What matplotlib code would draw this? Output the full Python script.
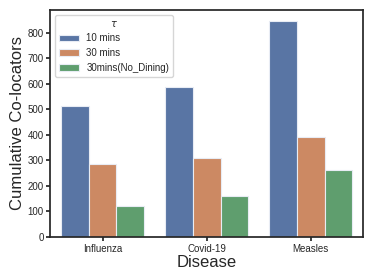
import matplotlib
matplotlib.use('Agg')
import matplotlib.pyplot as plt
import seaborn as sns
import pandas as pd

diseases = ['Influenza', 'Covid-19', 'Measles']
taus = ['10 mins', '30 mins', '30mins(No_Dining)']
colocators_10 = [511, 586, 848]
colocators_30 = [286, 310, 392]
colocators_nd = [120, 160, 262]

rows = []
for tau, vals in zip(taus, [colocators_10, colocators_30, colocators_nd]):
    for d, v in zip(diseases, vals):
        rows.append({'Disease': d, 'tau': tau, 'value': v})
df = pd.DataFrame(rows)

sns.set_theme(style='ticks')
plt.rcParams['font.family'] = ['Liberation Sans', 'DejaVu Sans']

fig, ax = plt.subplots(figsize=(3.74, 2.8), dpi=100)
sns.barplot(data=df, x='Disease', y='value', hue='tau', palette='deep',
            edgecolor='#e8ecf4', linewidth=0.8, ax=ax)

ax.set_xlabel('Disease', fontsize=12, labelpad=1)
ax.set_ylabel('Cumulative Co-locators', fontsize=12, labelpad=2)
ax.tick_params(labelsize=7, length=3, pad=2)
ax.set_yticks(range(0, 900, 100))

leg = ax.legend(title=r'$\tau$', fontsize=7, title_fontsize=7,
                loc='upper left', frameon=True)

fig.subplots_adjust(left=0.135, right=0.97, top=0.965, bottom=0.155)
fig.savefig('out.png', dpi=100)
